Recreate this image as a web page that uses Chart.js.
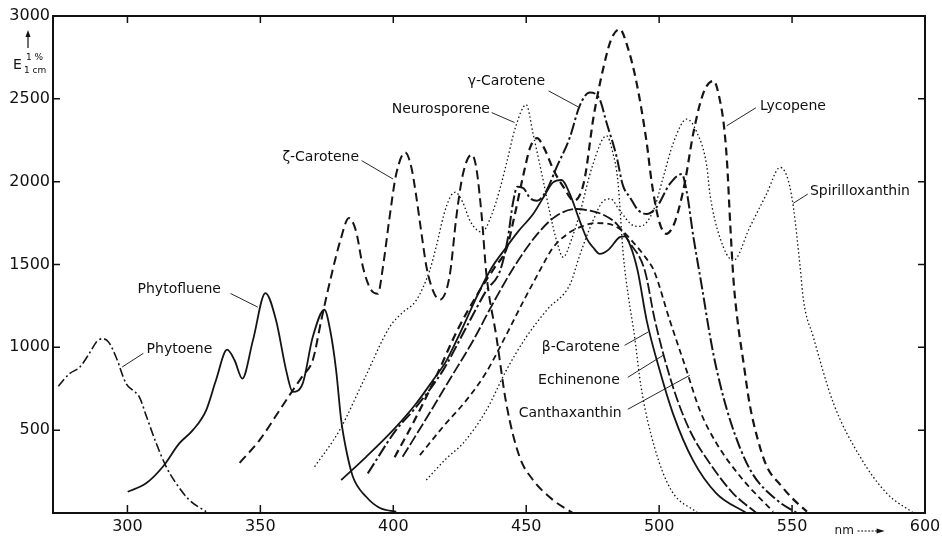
<!DOCTYPE html>
<html>
<head>
<meta charset="utf-8">
<script src="https://cdn.jsdelivr.net/npm/chart.js@4.4.0/dist/chart.umd.min.js"></script>
<style>
  html, body { margin: 0; padding: 0; background: #fff; }
  #wrap { width: 942px; height: 538px; }
</style>
</head>
<body>
<div id="wrap"><canvas id="myChart" width="942" height="538"></canvas></div>
<script>
// wavelength (nm) and E 1%/1cm
const phytoeneNm = [274, 278.2, 282, 285.7, 288.5, 290.7, 293, 295.7, 299.5, 302, 304.5, 307, 310.8, 314.6, 318.3, 323.3, 329.6];
const phytoeneE = [765, 841, 879, 964, 1035, 1052, 1030, 942, 781, 741, 700, 590, 422, 279, 179, 78, 8];

const phytoflueneNm = [300.1, 307, 313.3, 319.5, 324.6, 329.6, 333.3, 337.5, 340.3, 343.2, 347.2, 351.9, 355.9, 359.7, 362.2, 365.9, 369.7, 374.1, 376.3, 378.5, 380.4, 382.3, 384.8, 389.8, 395, 401.1];
const phytoflueneE = [128, 179, 279, 420, 500, 620, 801, 986, 922, 811, 1042, 1327, 1163, 861, 731, 781, 1062, 1227, 1100, 861, 560, 380, 219, 98, 30, 8];

const zetaNm = [342.2, 349.7, 357.2, 362.2, 366, 369.7, 373, 376.5, 380, 383.3, 386, 388.6, 391.5, 394.2, 396.1, 398.6, 401.1, 404.5, 406.8, 408.5, 410.5, 412.5, 415, 417.4, 419.9, 421.5, 423.7, 426.2, 429.5, 431.2, 433.3, 435, 438.8, 442.5, 447.5, 452.6, 460.1, 467.6];
const zetaE = [303, 440, 620, 741, 830, 922, 1170, 1420, 1640, 1781, 1700, 1484, 1350, 1323, 1484, 1785, 2046, 2176, 2086, 1926, 1700, 1484, 1340, 1287, 1343, 1464, 1785, 2046, 2163, 2086, 1785, 1444, 1062, 661, 339, 199, 78, 0];

const neuroNm = [370.4, 379.8, 389, 398.6, 403.5, 408.6, 413.6, 416.1, 419, 421.5, 423.3, 426, 429, 433.3, 437, 440, 442.5, 446, 450, 452.6, 456.4, 459, 461.4, 463.9, 467, 470, 475, 480.2, 482.5, 484.5, 486.5, 488.5, 490.6, 493.2, 498.2, 504.5, 514.5];
const neuroE = [279, 500, 805, 1122, 1210, 1283, 1460, 1604, 1800, 1910, 1936, 1880, 1760, 1695, 1800, 1950, 2106, 2330, 2464, 2287, 2006, 1805, 1645, 1544, 1650, 1800, 2100, 2277, 2180, 2000, 1560, 1300, 1084, 761, 400, 139, 0];

const gammaNm = [390.4, 401, 408.6, 418.7, 427.5, 435, 440.2, 443, 445, 446.7, 449, 451.5, 454, 457.6, 461.4, 466.4, 470.1, 473.9, 477.6, 480.2, 483.9, 486.4, 489, 492, 495.3, 499, 504, 508.5, 510.3, 512.9, 516.1, 519.2, 521.7, 526.7, 534.3, 544.3, 551.8];
const gammaE = [239, 500, 640, 861, 1122, 1343, 1464, 1650, 1870, 1970, 1960, 1900, 1885, 1946, 2086, 2267, 2458, 2538, 2498, 2357, 2157, 1976, 1906, 1830, 1805, 1845, 1986, 2046, 1946, 1665, 1363, 1062, 861, 560, 259, 78, 0];

const lycopeneNm = [400.5, 408, 416, 424, 432, 438, 442.7, 445.2, 449, 451.5, 454.1, 456.6, 460.4, 464.1, 467.9, 471.7, 475.4, 479.2, 482, 485.2, 488, 491.5, 495.3, 497.2, 500, 502.7, 505.5, 507.9, 509.8, 512.9, 516.7, 520.5, 523, 524.3, 525.5, 526.8, 528, 529.5, 531.8, 534, 537, 540.5, 545.6, 550, 555.6];
const lycopeneE = [337, 560, 820, 1100, 1330, 1480, 1600, 1765, 2046, 2207, 2263, 2207, 2066, 1966, 1885, 1996, 2398, 2699, 2860, 2920, 2820, 2598, 2237, 1996, 1760, 1685, 1740, 1866, 2006, 2297, 2538, 2608, 2480, 2347, 2127, 1725, 1400, 1160, 900, 661, 450, 280, 170, 90, 8];

const spirilloNm = [412.4, 420, 426.2, 435, 442.5, 450, 458, 466.6, 470, 475, 479.2, 481.7, 485.2, 490.3, 492.8, 497.8, 501.6, 505.4, 510.4, 514.2, 517.9, 519.1, 522.8, 527.9, 534.1, 540.4, 545.5, 548.6, 550.5, 553, 554.3, 558, 565.6, 575.6, 585.6, 595.7];
const spirilloE = [199, 330, 420, 620, 861, 1062, 1230, 1384, 1550, 1760, 1886, 1896, 1825, 1735, 1730, 1825, 2030, 2237, 2378, 2297, 2096, 1926, 1665, 1524, 1725, 1926, 2086, 2006, 1845, 1490, 1283, 1062, 661, 339, 119, 0];

const betaNm = [380.4, 389.8, 399.9, 408.6, 414.9, 420, 425, 432.5, 437, 442.5, 447, 452.6, 457, 460.1, 463.3, 466.4, 470.1, 473, 475.1, 477.7, 481, 485.2, 487.1, 489, 491.9, 495.3, 500.2, 505.2, 512.7, 521.5, 532.8];
const betaE = [199, 339, 500, 661, 801, 920, 1082, 1343, 1480, 1604, 1700, 1805, 1920, 1996, 2010, 1926, 1765, 1650, 1604, 1564, 1590, 1665, 1670, 1620, 1464, 1163, 861, 600, 319, 119, 0];

const echinNm = [403.5, 412, 421, 430, 438, 446, 454, 461, 468.9, 474, 479, 484, 489, 494.6, 498.4, 505.2, 511.5, 519.1, 527.8, 536.6];
const echinE = [339, 560, 800, 1040, 1280, 1500, 1680, 1790, 1835, 1825, 1800, 1745, 1630, 1464, 1163, 761, 500, 299, 119, 0];

const canthaNm = [410, 418.7, 427.5, 435, 442, 449, 455, 460, 466, 471, 476, 481, 486, 491, 495, 498, 504, 510.3, 515.3, 521.6, 531.6, 542.9];
const canthaE = [349, 520, 681, 850, 1060, 1280, 1460, 1600, 1690, 1730, 1750, 1745, 1705, 1620, 1540, 1464, 1163, 861, 620, 420, 199, 8];

const xTicks = [300, 350, 400, 450, 500, 550, 600];
const yTicks = [500, 1000, 1500, 2000, 2500, 3000];

// callouts: text position and leader line, all in data units
const callouts = [
  { text: 'Phytoene', at: [307.2, 988], side: 'left', from: [306, 964], to: [298, 881] },
  { text: 'Phytofluene', at: [303.8, 1349], side: 'left', from: [338.8, 1325], to: [349, 1243] },
  { text: 'ζ-Carotene', at: [358.3, 2145], side: 'left', from: [388.1, 2127], to: [399.9, 2016] },
  { text: 'Neurosporene', at: [399.4, 2434], side: 'left', from: [437, 2417], to: [445.6, 2357] },
  { text: 'γ-Carotene', at: [428, 2608], side: 'left', from: [458.4, 2548], to: [469.5, 2452] },
  { text: 'Lycopene', at: [537.9, 2452], side: 'left', from: [536.4, 2446], to: [525.4, 2337] },
  { text: 'Spirilloxanthin', at: [556.7, 1940], side: 'left', from: [555.9, 1925], to: [550.4, 1869] },
  { text: 'β-Carotene', at: [485.2, 1000], side: 'right', from: [487, 1012], to: [495.8, 1092] },
  { text: 'Echinenone', at: [485.2, 801], side: 'right', from: [488.2, 819], to: [501.5, 952] },
  { text: 'Canthaxanthin', at: [485.9, 602], side: 'right', from: [488.2, 626], to: [511.5, 831] }
];

function toPoints(nm, e) {
  return nm.map((x, i) => ({ x: x, y: e[i] }));
}

function makeLine(nm, e, width, dash) {
  return {
    data: toPoints(nm, e),
    borderColor: '#151515',
    borderWidth: width,
    borderDash: dash,
    pointRadius: 0,
    fill: false,
    cubicInterpolationMode: 'monotone'
  };
}

const datasets = [
  makeLine(phytoeneNm, phytoeneE, 1.6, [9, 3, 2, 3]),
  makeLine(phytoflueneNm, phytoflueneE, 1.8, []),
  makeLine(zetaNm, zetaE, 2, [9, 5]),
  makeLine(neuroNm, neuroE, 1.3, [1.5, 2.5]),
  makeLine(gammaNm, gammaE, 2, [12, 3, 2.5, 3]),
  makeLine(lycopeneNm, lycopeneE, 2.2, [8, 5]),
  makeLine(spirilloNm, spirilloE, 1.3, [1.5, 2.5]),
  makeLine(betaNm, betaE, 1.8, []),
  makeLine(echinNm, echinE, 1.8, [11, 3]),
  makeLine(canthaNm, canthaE, 1.8, [6, 4])
];

const framePlugin = {
  id: 'frame',
  afterDatasetsDraw(chart) {
    const { ctx, chartArea: a, scales: { x, y } } = chart;
    ctx.save();
    ctx.setLineDash([]);
    ctx.strokeStyle = '#111';
    ctx.lineWidth = 2;
    ctx.strokeRect(a.left, a.top, a.right - a.left, a.bottom - a.top);

    // tick marks pointing into the plot on all four sides
    ctx.lineWidth = 1.5;
    ctx.beginPath();
    xTicks.forEach(v => {
      const px = x.getPixelForValue(v);
      ctx.moveTo(px, a.bottom); ctx.lineTo(px, a.bottom - 8);
      ctx.moveTo(px, a.top); ctx.lineTo(px, a.top + 7);
    });
    yTicks.forEach(v => {
      const py = y.getPixelForValue(v);
      ctx.moveTo(a.left, py); ctx.lineTo(a.left + 7, py);
      ctx.moveTo(a.right, py); ctx.lineTo(a.right - 7, py);
    });
    ctx.stroke();

    // pigment names and leader lines
    ctx.fillStyle = '#111';
    ctx.font = '14px "DejaVu Sans"';
    ctx.textBaseline = 'middle';
    ctx.lineWidth = 0.9;
    callouts.forEach(c => {
      ctx.textAlign = c.side;
      ctx.fillText(c.text, x.getPixelForValue(c.at[0]), y.getPixelForValue(c.at[1]));
      ctx.beginPath();
      ctx.moveTo(x.getPixelForValue(c.from[0]), y.getPixelForValue(c.from[1]));
      ctx.lineTo(x.getPixelForValue(c.to[0]), y.getPixelForValue(c.to[1]));
      ctx.stroke();
    });

    // y axis title: arrow and E 1% / 1 cm
    const tx = a.left - 25;
    ctx.lineWidth = 1.2;
    ctx.beginPath();
    ctx.moveTo(tx, a.top + 32); ctx.lineTo(tx, a.top + 18);
    ctx.stroke();
    ctx.beginPath();
    ctx.moveTo(tx, a.top + 14); ctx.lineTo(tx - 2.5, a.top + 21); ctx.lineTo(tx + 2.5, a.top + 21);
    ctx.closePath(); ctx.fill();
    ctx.textAlign = 'left';
    ctx.font = '14px "DejaVu Sans"';
    ctx.fillText('E', tx - 15, a.top + 49);
    ctx.font = '9px "DejaVu Sans"';
    ctx.fillText('1 %', tx - 2, a.top + 42);
    ctx.fillText('1 cm', tx - 4, a.top + 55);

    // x axis unit with arrow
    const nx = x.getPixelForValue(566);
    const ny = a.bottom + 18;
    ctx.font = '12px "DejaVu Sans"';
    ctx.fillText('nm', nx, ny);
    ctx.setLineDash([2, 1.5]);
    ctx.lineWidth = 1;
    ctx.beginPath();
    ctx.moveTo(nx + 23, ny); ctx.lineTo(nx + 44, ny);
    ctx.stroke();
    ctx.setLineDash([]);
    ctx.beginPath();
    ctx.moveTo(nx + 50, ny); ctx.lineTo(nx + 42, ny - 2.5); ctx.lineTo(nx + 42, ny + 2.5);
    ctx.closePath(); ctx.fill();
    ctx.restore();
  }
};

const tickFont = { family: 'DejaVu Sans', size: 16 };

new Chart(document.getElementById('myChart'), {
  type: 'line',
  data: { datasets: datasets },
  options: {
    responsive: false,
    animation: false,
    events: [],
    layout: { padding: { top: 16, right: 17, bottom: 0, left: 0 } },
    plugins: { legend: { display: false }, tooltip: { enabled: false } },
    scales: {
      x: {
        type: 'linear',
        min: 272,
        max: 600,
        afterBuildTicks: scale => { scale.ticks = xTicks.map(v => ({ value: v })); },
        afterFit: scale => { scale.height = 25; scale.paddingLeft = 0; scale.paddingRight = 0; },
        grid: { display: false, drawTicks: false },
        border: { display: false },
        ticks: { font: tickFont, color: '#111', padding: 4, maxRotation: 0, callback: v => String(v) }
      },
      y: {
        type: 'linear',
        min: 0,
        max: 3000,
        afterBuildTicks: scale => { scale.ticks = yTicks.map(v => ({ value: v })); },
        afterFit: scale => { scale.width = 53; scale.paddingTop = 0; scale.paddingBottom = 0; },
        grid: { display: false, drawTicks: false },
        border: { display: false },
        ticks: { font: tickFont, color: '#111', padding: 3, callback: v => String(v) }
      }
    }
  },
  plugins: [framePlugin]
});
</script>
</body>
</html>
